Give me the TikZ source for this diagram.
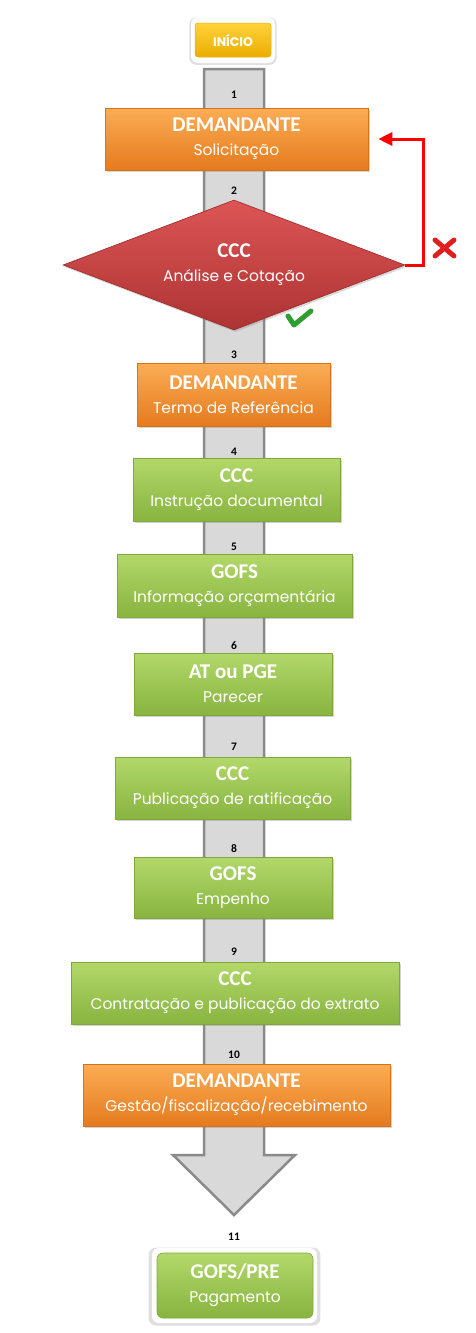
\documentclass[tikz,border=0pt]{standalone}
\usepackage{fontspec}
\setmainfont{Poppins}
\newfontfamily\titlefont{Carlito}
\usetikzlibrary{shapes.geometric,shadows,arrows.meta}
\definecolor{orgtop}{HTML}{FBAD55}
\definecolor{orgbot}{HTML}{E57A1E}
\definecolor{orgline}{HTML}{D8731C}
\definecolor{grntop}{HTML}{B2D86A}
\definecolor{grnbot}{HTML}{88B440}
\definecolor{grnline}{HTML}{7FA83A}
\definecolor{redtop}{HTML}{DC5555}
\definecolor{redbot}{HTML}{AE3333}
\definecolor{redline}{HTML}{9A2828}
\definecolor{yeltop}{HTML}{FFD23A}
\definecolor{yelbot}{HTML}{EBAE00}
\definecolor{shaftfill}{HTML}{D9D9D9}
\definecolor{shaftline}{HTML}{8A8A8A}
\definecolor{loopred}{HTML}{FF0000}
\definecolor{xred}{HTML}{E01E1E}
\definecolor{checkgreen}{HTML}{2E9E2E}
\newcommand{\boxtext}[2]{{\titlefont\bfseries\fontsize{21}{24}\selectfont #1}\\{\fontsize{15.5}{24}\selectfont #2}}
\begin{document}
\begin{tikzpicture}[x=1pt,y=-1pt,
  stepbase/.style={rectangle, inner sep=0pt, text=white, align=center, line width=0.6pt,
    font=\fontsize{15.5}{24}\selectfont,
    drop shadow={opacity=0.35, shadow xshift=1.5pt, shadow yshift=-2pt}},
  orangebox/.style={stepbase, draw=orgline, top color=orgtop, bottom color=orgbot},
  greenbox/.style={stepbase, draw=grnline, top color=grntop, bottom color=grnbot},
  numlabel/.style={font=\titlefont\bfseries\fontsize{11.5}{13}\selectfont, inner sep=0pt},
  whiteframe/.style={rounded corners=7pt, fill=white, inner sep=0pt,
    drop shadow={opacity=0.25, shadow xshift=0pt, shadow yshift=-1pt, shadow scale=1.04}},
]
\useasboundingbox (0,0) rectangle (476,1333);

% big gray arrow (background)
\draw[fill=shaftfill, draw=shaftline, line width=2.5pt, line join=miter]
  (204,69) -- (264,69) -- (264,1155) -- (295,1155) -- (234,1215) -- (173,1155) -- (204,1155) -- cycle;

% start
\node[whiteframe, minimum width=84pt, minimum height=46pt] (startframe) at (233,40) {};
\node[rounded corners=3pt, draw=yelbot, line width=0.5pt, top color=yeltop, bottom color=yelbot,
  minimum width=76pt, minimum height=34pt, inner sep=0pt, text=white,
  font=\bfseries\fontsize{12.5}{14}\selectfont] (start) at (233,40) {INÍCIO};

% numbers
\node[numlabel] (n1) at (234,95) {1};
\node[numlabel] (n2) at (234,191) {2};
\node[numlabel] (n3) at (234,355) {3};
\node[numlabel] (n4) at (234,452) {4};
\node[numlabel] (n5) at (234,547) {5};
\node[numlabel] (n6) at (234,646) {6};
\node[numlabel] (n7) at (234,747) {7};
\node[numlabel] (n8) at (234,849) {8};
\node[numlabel] (n9) at (234,952) {9};
\node[numlabel] (n10) at (234,1055) {10};
\node[numlabel] (n11) at (234,1237) {11};

% steps
\node[orangebox, minimum width=263pt, minimum height=62pt] (b1) at (236.5,139) {\boxtext{DEMANDANTE}{Solicitação}};

\node[diamond, minimum width=342pt, minimum height=130pt, inner sep=0pt, line width=0.6pt,
  draw=redline, top color=redtop, bottom color=redbot,
  drop shadow={opacity=0.3, shadow xshift=1.5pt, shadow yshift=-2pt}] (dia) at (234,265) {};
\node[text=white, align=center, inner sep=0pt, font=\fontsize{15.5}{24}\selectfont] (diatext) at (dia.center) {\boxtext{CCC}{Análise e Cotação}};

\node[orangebox, minimum width=193pt, minimum height=63pt] (b3) at (233.5,394.5) {\boxtext{DEMANDANTE}{Termo de Referência}};
\node[greenbox, minimum width=207pt, minimum height=63pt] (b4) at (236.5,489.5) {\boxtext{CCC}{Instrução documental}};
\node[greenbox, minimum width=235pt, minimum height=63pt] (b5) at (234.5,585.5) {\boxtext{GOFS}{Informação orçamentária}};
\node[greenbox, minimum width=198pt, minimum height=62pt] (b6) at (233,684) {\boxtext{AT ou PGE}{Parecer}};
\node[greenbox, minimum width=235pt, minimum height=62pt] (b7) at (232.5,788) {\boxtext{CCC}{Publicação de ratificação}};
\node[greenbox, minimum width=198pt, minimum height=61pt] (b8) at (233,887.5) {\boxtext{GOFS}{Empenho}};
\node[greenbox, minimum width=328pt, minimum height=62pt] (b9) at (235,993) {\boxtext{CCC}{Contratação e publicação do extrato}};
\node[orangebox, minimum width=307pt, minimum height=62pt] (b10) at (236.5,1095) {\boxtext{DEMANDANTE}{Gestão/fiscalização/recebimento}};

% end
\node[whiteframe, minimum width=165pt, minimum height=75pt] (endframe) at (234.5,1285.5) {};
\node[rounded corners=6pt, draw=grnline, line width=0.6pt, top color=grntop, bottom color=grnbot,
  minimum width=156pt, minimum height=65pt, inner sep=0pt, text=white, align=center,
  font=\fontsize{15.5}{24}\selectfont] (b11) at (235,1285.5) {\boxtext{GOFS/PRE}{Pagamento}};

% rejection loop
\draw[loopred, line width=3pt, -{Triangle[length=14pt,width=13pt]}]
  (dia.east) -- ++(18,0) |- ([xshift=10pt]b1.east);

% cross and check marks
\draw[xred, line width=5pt, line cap=round] (435,240) -- (454,256);
\draw[xred, line width=5pt, line cap=round] (454,240) -- (435,256);
\draw[checkgreen, line width=5pt, line cap=round, line join=round] (288,316) -- (294,325) -- (311,311);
\end{tikzpicture}
\end{document}
